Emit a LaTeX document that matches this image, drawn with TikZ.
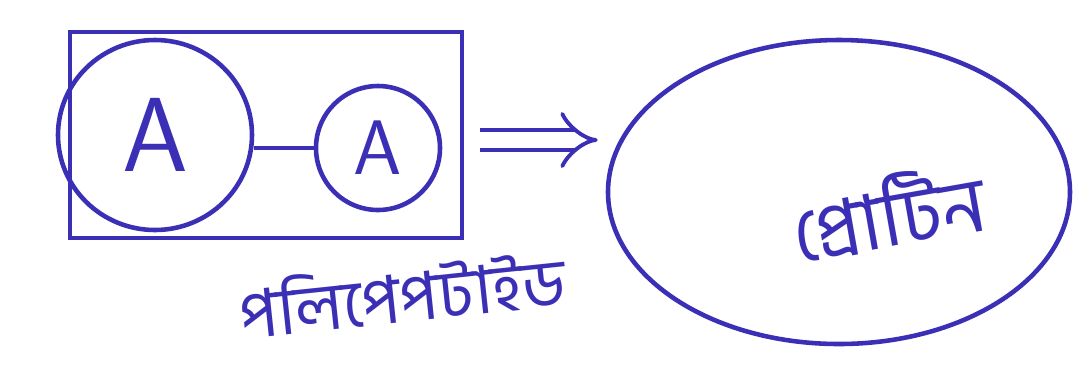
\documentclass[tikz,border=0pt]{standalone}
\usepackage{fontspec}
\newfontfamily\bengfont[Script=Bengali]{Hind Siliguri}
\usetikzlibrary{arrows.meta,shapes.geometric}
\definecolor{figInk}{HTML}{3B2FB6}

\begin{document}
\begin{tikzpicture}[x=0.02cm,y=-0.02cm,line width=2.6pt]
    \useasboundingbox (0,0) rectangle (1073,370);
    % the chain in its box
    \node[draw=figInk,minimum width=392*0.02cm,minimum height=206*0.02cm,inner sep=0pt] (chain) at (266,135) {};
    \node[draw=figInk,ellipse,minimum width=194*0.02cm,minimum height=190*0.02cm,inner sep=0pt,text=figInk,font=\sffamily\fontsize{60}{60}\selectfont] (bigA) at (155,135) {A};
    \node[draw=figInk,circle,minimum size=124*0.02cm,inner sep=0pt,text=figInk,font=\sffamily\fontsize{44}{44}\selectfont] (smallA) at (378,148) {A};
    % bond between the two
    \draw[figInk] (smallA -| bigA.east) -- (smallA.west);
    % label under the box
    \node[text=figInk,font=\bengfont\fontsize{38}{40}\selectfont,rotate=6,inner sep=1pt] (chainlbl) at (402,293) {পলিপেপটাইড};
    % the folded result
    \node[draw=figInk,ellipse,minimum width=462*0.02cm,minimum height=304*0.02cm,inner sep=0pt] (protein) at (839,192) {};
    \node[text=figInk,font=\bengfont\fontsize{44}{46}\selectfont,rotate=10] (proteinlbl) at (888,212) {প্রোটিন};
    % chain turns into protein
    \draw[figInk,double,double distance=9pt,line width=2.2pt,-{Implies},shorten <=16*0.02cm,shorten >=8*0.02cm] ([yshift=-0.1cm]chain.east) -- ([yshift=-0.1cm]chain.east -| protein.west);
\end{tikzpicture}
\end{document}
